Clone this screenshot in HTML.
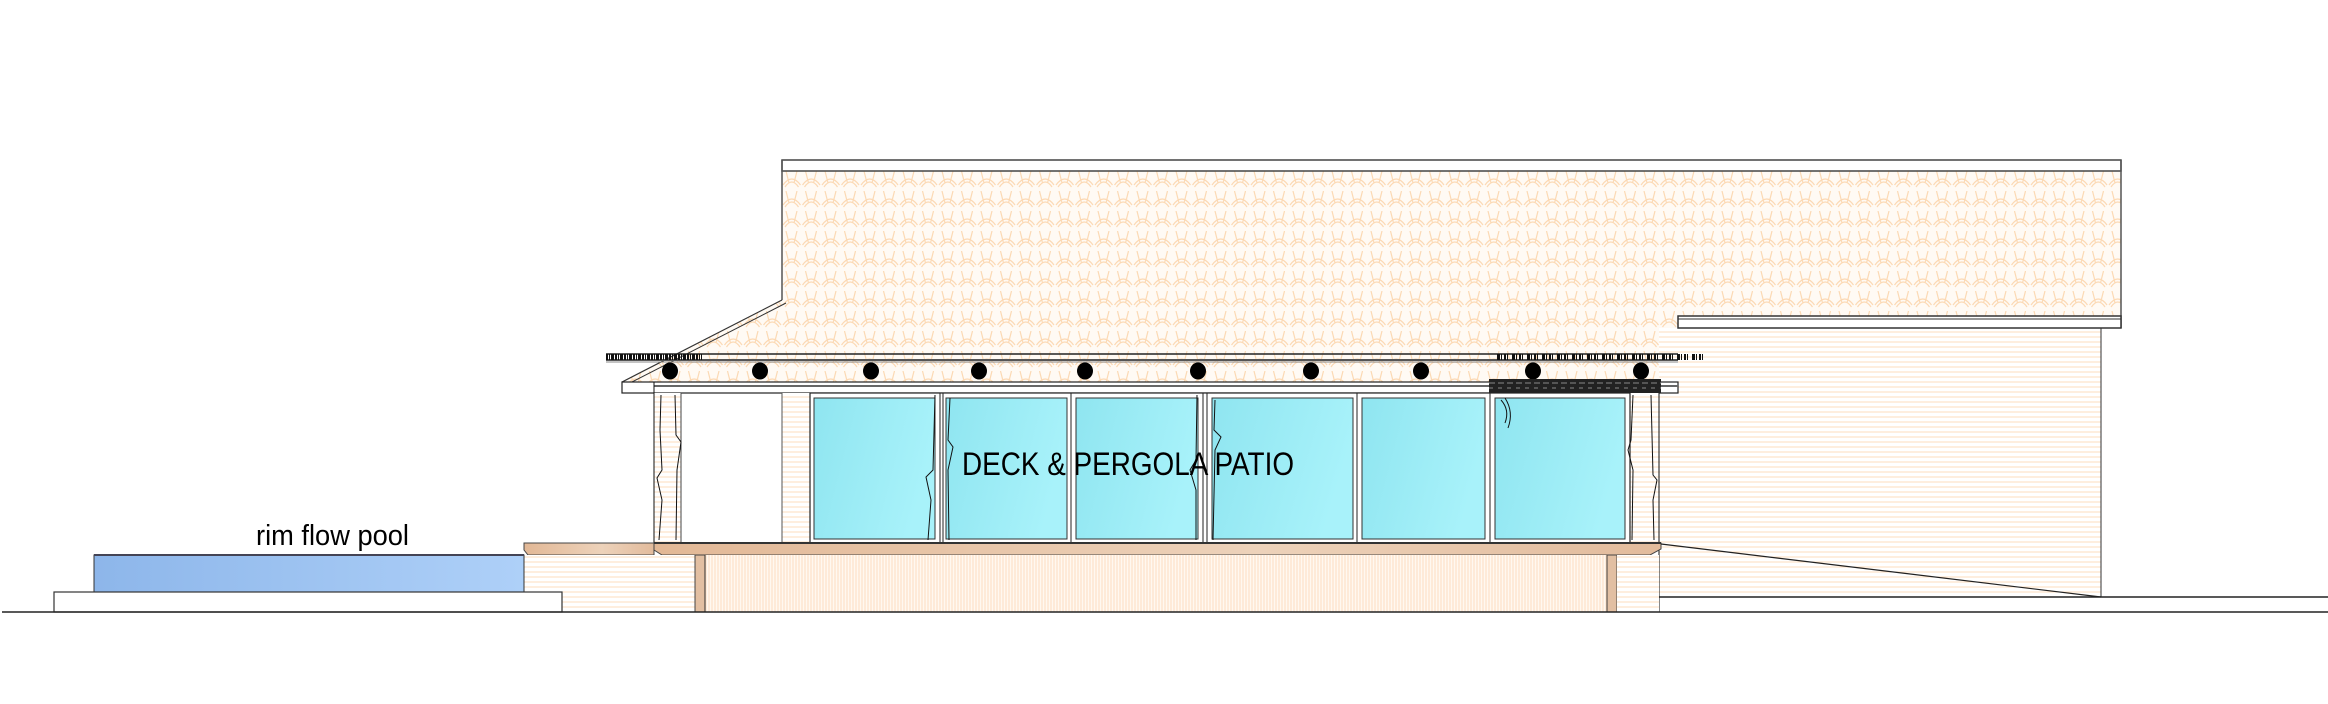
<!DOCTYPE html>
<html><head><meta charset="utf-8"><style>html,body{margin:0;padding:0;background:#fff}svg{display:block}</style></head>
<body>
<svg width="2328" height="704" viewBox="0 0 2328 704" xmlns="http://www.w3.org/2000/svg">
<defs>
<pattern id="tile" width="19.5" height="20" patternUnits="userSpaceOnUse" x="782" y="171">
<rect width="19.5" height="20" fill="#fffaf4"/>
<path d="M4,0 L7,12 M15,0 L12,12 M1,14 Q9.75,2 18.5,14 M3,16 Q9.75,6 16.5,16" stroke="#fcd9b4" stroke-width="1.2" fill="none"/>
</pattern>
<pattern id="siding" width="10" height="5" patternUnits="userSpaceOnUse">
<rect width="10" height="5" fill="#fff"/><line x1="0" y1="2" x2="10" y2="2" stroke="#fcdcbc" stroke-width="1"/>
</pattern>
<pattern id="vhatch" width="3" height="10" patternUnits="userSpaceOnUse">
<rect width="3" height="10" fill="#fff8f0"/><line x1="1" y1="0" x2="1" y2="10" stroke="#fcdcc0" stroke-width="1"/>
</pattern>
<linearGradient id="glass" x1="0" y1="0" x2="1" y2="0.3"><stop offset="0" stop-color="#8fe5f0"/><stop offset="1" stop-color="#a8f2fa"/></linearGradient>
<linearGradient id="pool" x1="0" y1="0" x2="1" y2="0"><stop offset="0" stop-color="#8db6ea"/><stop offset="1" stop-color="#aed0f8"/></linearGradient>
<linearGradient id="deck" x1="0" y1="0" x2="1" y2="0"><stop offset="0" stop-color="#e2b896"/><stop offset="0.6" stop-color="#edd2ba"/><stop offset="1" stop-color="#e2bb9c"/></linearGradient>
</defs>

<polygon points="782,171 2121,171 2121,316 1678,316 1678,382 622,382 782,300" fill="url(#tile)"/>
<rect x="782" y="160" width="1339" height="11" fill="#fff" stroke="#444" stroke-width="1.5"/>
<line x1="782" y1="160" x2="782" y2="300" stroke="#555" stroke-width="1.5"/>
<line x1="2121" y1="160" x2="2121" y2="328" stroke="#555" stroke-width="1.5"/>
<line x1="782" y1="300" x2="622" y2="382" stroke="#333" stroke-width="1.2"/>
<line x1="786" y1="303" x2="628" y2="384" stroke="#333" stroke-width="1"/>

<rect x="1659" y="328" width="442" height="269" fill="url(#siding)"/>
<line x1="2101" y1="328" x2="2101" y2="597" stroke="#333" stroke-width="1"/>
<rect x="1678" y="316" width="443" height="12" fill="#fff" stroke="#333" stroke-width="1.5"/>
<line x1="1678" y1="319" x2="2121" y2="319" stroke="#333" stroke-width="1"/>

<line x1="606" y1="354" x2="1678" y2="354" stroke="#222" stroke-width="1.5"/>
<line x1="606" y1="360" x2="1678" y2="360" stroke="#555" stroke-width="2"/>
<line x1="606" y1="362" x2="1678" y2="362" stroke="#888" stroke-width="1"/>
<line x1="606" y1="357" x2="702" y2="357" stroke="#111" stroke-width="6" stroke-dasharray="2 1 1 1 3 1"/>
<line x1="1497" y1="357" x2="1707" y2="357" stroke="#111" stroke-width="6" stroke-dasharray="3 1 1 2 2 1 1 4"/>
<g fill="#000">
<ellipse cx="670" cy="371" rx="8" ry="8.5"/><ellipse cx="760" cy="371" rx="8" ry="8.5"/>
<ellipse cx="871" cy="371" rx="8" ry="8.5"/><ellipse cx="979" cy="371" rx="8" ry="8.5"/>
<ellipse cx="1085" cy="371" rx="8" ry="8.5"/><ellipse cx="1198" cy="371" rx="8" ry="8.5"/>
<ellipse cx="1311" cy="371" rx="8" ry="8.5"/><ellipse cx="1421" cy="371" rx="8" ry="8.5"/>
<ellipse cx="1533" cy="371" rx="8" ry="8.5"/><ellipse cx="1641" cy="371" rx="8" ry="8.5"/>
</g>
<rect x="622" y="382" width="1056" height="11" fill="#fff" stroke="#222" stroke-width="1.2"/>
<line x1="654" y1="386" x2="1678" y2="386" stroke="#666" stroke-width="2"/>
<rect x="1489" y="379" width="172" height="14" fill="#222"/>
<line x1="1489" y1="383" x2="1661" y2="383" stroke="#888" stroke-width="1" stroke-dasharray="6 3"/>
<line x1="1489" y1="388" x2="1661" y2="388" stroke="#888" stroke-width="1" stroke-dasharray="4 5"/>

<rect x="654" y="393" width="27" height="150" fill="url(#siding)"/>
<rect x="782" y="393" width="28" height="150" fill="url(#siding)"/>
<line x1="782" y1="393" x2="782" y2="543" stroke="#555" stroke-width="1"/>
<line x1="654" y1="382" x2="654" y2="612" stroke="#111" stroke-width="1"/>
<line x1="681" y1="393" x2="681" y2="543" stroke="#444" stroke-width="1"/>
<rect x="1630" y="393" width="29" height="150" fill="url(#siding)"/>
<line x1="1659" y1="393" x2="1659" y2="612" stroke="#111" stroke-width="1"/>

<rect x="810" y="393" width="820" height="150" fill="#fff" stroke="#222" stroke-width="1.2"/>
<g fill="url(#glass)" stroke="#333" stroke-width="1">
<rect x="814" y="398" width="121" height="141"/>
<rect x="946" y="398" width="121" height="141"/>
<rect x="1076" y="398" width="122" height="141"/>
<rect x="1212" y="398" width="141" height="141"/>
<rect x="1362" y="398" width="123" height="141"/>
<rect x="1495" y="398" width="130" height="141"/>
</g>
<g stroke="#222" stroke-width="1">
<line x1="940" y1="393" x2="940" y2="543"/><line x1="943" y1="393" x2="943" y2="543"/>
<line x1="1071" y1="393" x2="1071" y2="543"/>
<line x1="1203" y1="393" x2="1203" y2="543"/><line x1="1207" y1="393" x2="1207" y2="543"/>
<line x1="1357" y1="393" x2="1357" y2="543"/>
<line x1="1490" y1="393" x2="1490" y2="543"/>
</g>
<g stroke="#111" stroke-width="1" fill="none">
<path d="M661,395 L660,430 L662,470 L657,478 L662,500 L659,540"/>
<path d="M675,395 L676,435 L681,442 L677,470 L676,540"/>
<path d="M935,395 L933,470 L926,477 L931,500 L928,540"/>
<path d="M950,398 L948,440 L953,447 L948,470 L949,540"/>
<path d="M1197,395 L1196,460 L1190,470 L1196,490 L1196,540"/>
<path d="M1215,400 L1214,430 L1221,437 L1215,450 L1213,540"/>
<path d="M1501,400 Q1510,410 1505,423"/><path d="M1505,398 Q1514,412 1508,428"/>
<path d="M1633,395 L1631,440 L1628,450 L1633,470 L1632,540"/>
<path d="M1651,395 L1653,475 L1657,480 L1653,500 L1654,540"/>
</g>

<polygon points="524,543 654,543 654,555 528,555 524,550" fill="url(#deck)" stroke="#444" stroke-width="1"/>
<polygon points="654,543 1661,543 1661,549 1650,555 662,555 654,550" fill="url(#deck)" stroke="#444" stroke-width="1"/>
<line x1="654" y1="543" x2="1661" y2="543" stroke="#333" stroke-width="2"/>
<rect x="524" y="555" width="130" height="57" fill="url(#siding)"/>
<rect x="654" y="555" width="41" height="57" fill="url(#siding)"/>
<rect x="695" y="555" width="10" height="57" fill="#e2bfa2" stroke="#444" stroke-width="1"/>
<rect x="705" y="555" width="902" height="57" fill="url(#vhatch)"/>
<rect x="1607" y="555" width="10" height="57" fill="#e2bfa2" stroke="#444" stroke-width="1"/>
<rect x="1617" y="555" width="42" height="57" fill="url(#siding)"/>
<line x1="705" y1="555" x2="705" y2="612" stroke="#333" stroke-width="1"/>

<rect x="94" y="555" width="430" height="37" fill="url(#pool)" stroke="#333" stroke-width="1"/>
<line x1="94" y1="555" x2="524" y2="555" stroke="#445" stroke-width="2"/>
<rect x="54" y="592" width="508" height="20" fill="#fff" stroke="#333" stroke-width="1.2"/>

<line x1="1661" y1="544" x2="2101" y2="597" stroke="#222" stroke-width="1.2"/>
<line x1="1659" y1="597" x2="2328" y2="597" stroke="#222" stroke-width="1.5"/>
<line x1="2" y1="612" x2="2328" y2="612" stroke="#222" stroke-width="1.5"/>

<text x="256" y="545" font-family="Liberation Sans, sans-serif" font-size="29" textLength="153" lengthAdjust="spacingAndGlyphs" fill="#000">rim flow pool</text>
<text x="962" y="475" font-family="Liberation Sans, sans-serif" font-size="32" textLength="332" lengthAdjust="spacingAndGlyphs" fill="#000">DECK &amp; PERGOLA PATIO</text>
</svg>
</body></html>
